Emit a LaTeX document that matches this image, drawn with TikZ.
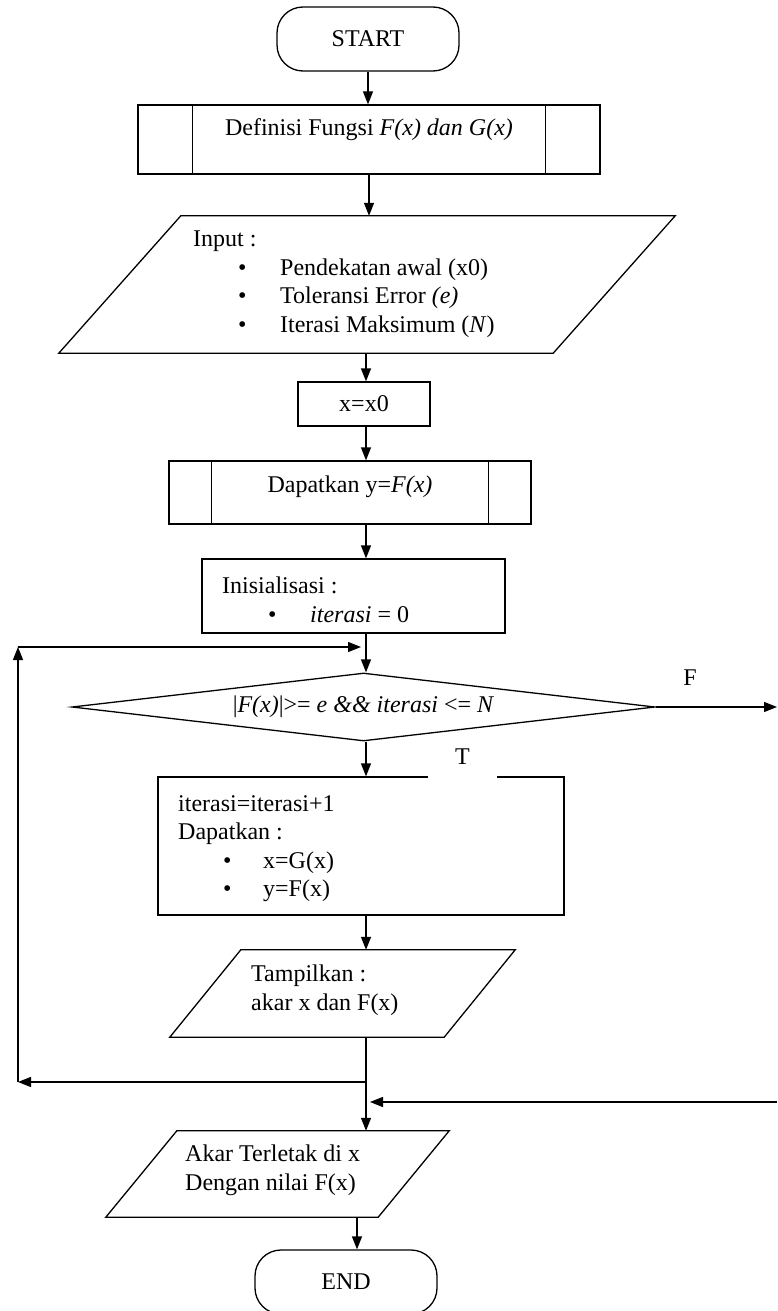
\documentclass[tikz,border=0pt]{standalone}
\usepackage{fontspec}
\setmainfont{Liberation Serif}
\usetikzlibrary{arrows.meta,shapes.geometric,calc}
\begin{document}
\begin{tikzpicture}[x=1pt,y=-1pt,
  every node/.style={font=\fontsize{24}{28.5}\selectfont},
  shp/.style={draw,line width=1.3pt},
  box/.style={shp,rectangle,inner sep=0},
  term/.style={shp,rectangle,rounded corners=26pt,inner sep=0},
  ghost/.style={rectangle,inner sep=0},
  txt/.style={inner sep=0,anchor=north west,align=left},
  arr/.style={line width=1.3pt,-{Triangle[length=13pt,width=10pt]}},
  ln/.style={line width=1.3pt}]
\useasboundingbox (0,0) rectangle (778,1311);
\coordinate (col) at (366,0);
\coordinate (col2) at (357,0);

% START
\node[term,minimum width=182pt,minimum height=64pt] (start) at (368,39) {START};

% Definisi
\node[box,minimum width=462pt,minimum height=69pt] (def) at (369,139.5) {};
\draw[ln] ([xshift=55pt]def.north west) -- ([xshift=55pt]def.south west);
\draw[ln] ([xshift=-55pt]def.north east) -- ([xshift=-55pt]def.south east);
\node (deft) at (369,130) {Definisi Fungsi \textit{F(x) dan G(x)}};

% Input
\node[ghost,minimum width=616pt,minimum height=137pt] (inp) at (367,284.5) {};
\draw[shp] (inp.south west) -- ([xshift=122pt]inp.north west) -- (inp.north east) -- ([xshift=-122pt]inp.south east) -- cycle;
\node[txt] (inpt) at (193,231) {Input :\\
\makebox[87pt][l]{\hspace*{45pt}\textbullet}Pendekatan awal (x0)\\
\makebox[87pt][l]{\hspace*{45pt}\textbullet}Toleransi Error \textit{(e)}\\
\makebox[87pt][l]{\hspace*{45pt}\textbullet}Iterasi Maksimum (\textit{N})};

% x=x0
\node[box,minimum width=132pt,minimum height=44pt] (x0) at (364,404) {x=x0};

% Dapatkan
\node[box,minimum width=362pt,minimum height=63pt] (dap) at (350,492.5) {};
\draw[ln] ([xshift=43pt]dap.north west) -- ([xshift=43pt]dap.south west);
\draw[ln] ([xshift=-43pt]dap.north east) -- ([xshift=-43pt]dap.south east);
\node (dapt) at (350,487) {Dapatkan y=\textit{F(x)}};

% Inisialisasi
\node[box,minimum width=303pt,minimum height=74pt] (init) at (353.5,596) {};
\node[txt] (initt) at (222,577) {Inisialisasi :\\
\makebox[88pt][l]{\hspace*{46pt}\textbullet}\textit{iterasi} = 0};

% Decision
\node[shp,diamond,aspect=8.6,minimum width=583pt,minimum height=68pt,inner sep=0] (dia) at (363.5,707)
  {|\textit{F(x)}|>= \textit{e \&\& iterasi} <= \textit{N}};

% Iterasi box
\node[box,minimum width=406pt,minimum height=138pt] (iter) at (361,846) {};
\node[txt] (itert) at (178,795) {iterasi=iterasi+1\\
Dapatkan :\\
\makebox[85pt][l]{\hspace*{45pt}\textbullet}x=G(x)\\
\makebox[85pt][l]{\hspace*{45pt}\textbullet}y=F(x)};
\node[fill=white,minimum width=69pt,minimum height=44pt,inner sep=0] (tlab) at (462.5,757) {T};

% Tampilkan
\node[ghost,minimum width=345pt,minimum height=87pt] (tamp) at (342.5,993.5) {};
\draw[shp] (tamp.south west) -- ([xshift=71pt]tamp.north west) -- (tamp.north east) -- ([xshift=-71pt]tamp.south east) -- cycle;
\node[txt] (tampt) at (251,965) {Tampilkan :\\akar x dan F(x)};

% Akar
\node[ghost,minimum width=343pt,minimum height=86pt] (akar) at (277.5,1174) {};
\draw[shp] (akar.south west) -- ([xshift=71pt]akar.north west) -- (akar.north east) -- ([xshift=-71pt]akar.south east) -- cycle;
\node[txt] (akart) at (185,1145) {Akar Terletak di x\\Dengan nilai F(x)};

% END
\node[term,minimum width=182pt,minimum height=64pt] (end) at (346,1282) {END};

% connectors
\draw[arr] (start.south) -- (start.south |- def.north);
\draw[arr] (def.south) -- (def.south |- inp.north);
\draw[arr] (col |- inp.south) -- (col |- x0.north);
\draw[arr] (col |- x0.south) -- (col |- dap.north);
\draw[arr] (col |- dap.south) -- (col |- init.north);
\draw[arr] (col |- init.south) -- (col |- dia.north);
\draw[arr] (col |- dia.south) -- (col |- iter.north);
\draw[arr] (col |- iter.south) -- (col |- tamp.north);
\draw[arr] (col |- tamp.south) -- (col |- akar.north);
\draw[arr] (col2 |- akar.south) -- (col2 |- end.north);

% loop back
\coordinate (lpL) at (18,1082);
\coordinate (lpT) at (18,647);
\draw[arr] (col |- lpL) -- (lpL);
\draw[arr] (lpL) -- (lpT);
\draw[arr] (lpT) -- ($(col |- lpT)+(-5,0)$);

% F branch
\coordinate (fR) at (777,707);
\coordinate (fR2) at (777,1102);
\draw[arr] (dia.east) -- (fR);
\node (flab) at (690,678) {F};
\draw[arr] (fR2) -- ($(col |- fR2)+(4,0)$);
\end{tikzpicture}
\end{document}
